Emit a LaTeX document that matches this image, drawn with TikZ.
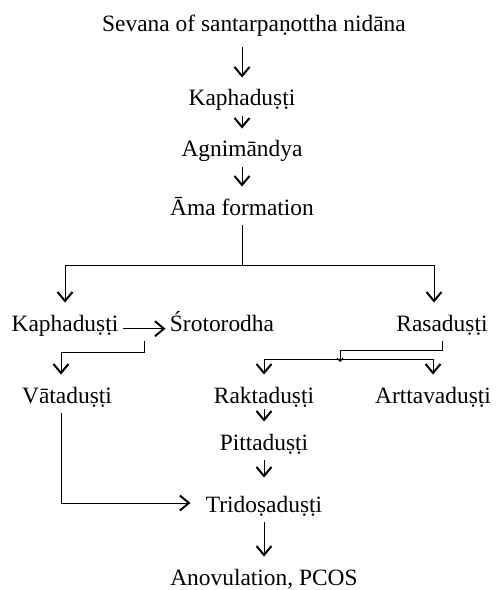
\documentclass[tikz,border=0pt]{standalone}
\usepackage{fontspec}
\setmainfont{Liberation Serif}
\usetikzlibrary{arrows.meta,calc}

\begin{document}
\begin{tikzpicture}[x=1bp,y=-1bp,>={Straight Barb[length=9bp,width=15bp,line width=2bp]},
  line width=0.9bp,font=\fontsize{23.5}{28}\selectfont,
  stage/.style={anchor=base,inner xsep=4bp,inner ysep=5bp,text height=23bp,text depth=5bp}]
\useasboundingbox (0,0) rectangle (501,590);
% main column
\node[stage] (sev) at (254,32) {Sevana of santarpaṇottha nidāna};
\node[stage] (kap1) at (242,106) {Kaphaduṣṭi};
\node[stage] (agni) at (242,157) {Agnimāndya};
\node[stage] (ama) at (242,215) {Āma formation};
% branches
\node[stage] (kap2) at (65,331) {Kaphaduṣṭi};
\node[stage] (sro) at (222,331) {Śrotorodha};
\node[stage] (rasa) at (442,331) {Rasaduṣṭi};
\node[stage] (vata) at (67,403) {Vātaduṣṭi};
\node[stage] (rakta) at (264,403) {Raktaduṣṭi};
\node[stage] (artta) at (433,403) {Arttavaduṣṭi};
\node[stage] (pitta) at (264,450) {Pittaduṣṭi};
\node[stage] (tri) at (264,512) {Tridoṣaduṣṭi};
\node[stage] (anov) at (264,585) {Anovulation, PCOS};
\coordinate (fork) at (242,265);
\coordinate (split) at (340,359);
\coordinate (ks) at ($(kap2.east)!0.5!(sro.west)$);
% connectors
\draw[->,shorten <=5bp] (kap1|-sev.south) -- (kap1.north);
\draw[->] (kap1) -- (agni);
\draw[->] (agni) -- (ama);
\draw (ama) -- (fork);
\draw[->] (fork) -| (kap2.north);
\draw[->] (fork) -| ([xshift=-8bp]rasa.north);
\draw[->] (kap2.mid east) -- (sro.mid west);
\draw[->] (ks|-sro.south) -- ++(0,11) -| ([xshift=-6bp]vata.north);
\draw[-{Straight Barb[length=3bp,width=6bp,line width=1.2bp]}] (rasa.south) -- ++(0,9) -| ([yshift=-3bp]split);
\draw[->] (split) -| (rakta.north);
\draw[->] (split) -| (artta.north);
\draw[->,shorten <=-4bp] (rakta) -- (pitta);
\draw[->,shorten >=6bp] (pitta) -- (tri);
\draw[->] (tri) -- (anov);
\draw[->,shorten >=11bp] ([xshift=-6bp]vata.south) |- (tri.west);
\end{tikzpicture}
\end{document}
